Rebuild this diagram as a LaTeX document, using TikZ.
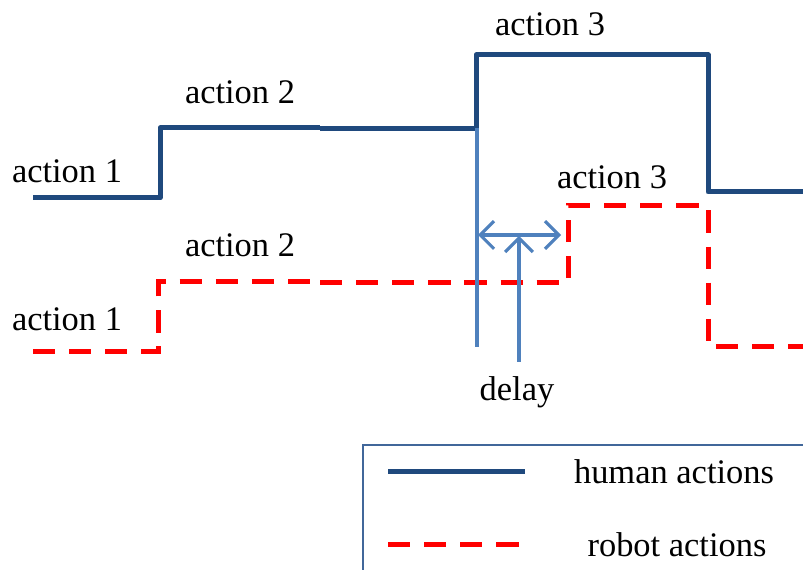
\documentclass[tikz,border=0pt]{standalone}
\usepackage{fontspec}
\setmainfont{Liberation Serif}
\usetikzlibrary{arrows.meta, positioning}
\definecolor{humanblue}{RGB}{31, 73, 125}
\definecolor{delayblue}{RGB}{79, 129, 189}
\definecolor{legendblue}{RGB}{65, 103, 154}
\definecolor{robotred}{RGB}{255, 0, 0}

\begin{document}
\begin{tikzpicture}[
    x=0.36pt, y=-0.36pt,
    font=\fontsize{12.4}{15}\selectfont,
    >={Straight Barb[length=5pt, width=10pt, line width=1.1pt]},
    human/.style={line width=1.8pt, humanblue, line join=round},
    robot/.style={line width=1.8pt, robotred, dash pattern=on 8pt off 5pt},
    delayline/.style={line width=1.1pt, delayblue},
    label/.style={inner sep=0pt, anchor=base}
]
    \useasboundingbox (0,0) rectangle (803,570);

    % Human actions (solid)
    \draw[human] (33,198) -- (160,198) -- (160,128) -- (320,128);
    \draw[human] (320,129) -- (476,129) -- (476,55) -- (708,55) -- (708,192) -- (803,192);

    % Robot actions (dashed)
    \draw[robot] (33,352) -- (158,352) -- (158,282) -- (320,282);
    \draw[robot] (320,283) -- (568,283) -- (568,206) -- (708,206) -- (708,347) -- (803,347);

    % Labels
    \node[label] (h1) at (67,183) {action 1};
    \node[label] (h2) at (240,104) {action 2};
    \node[label] (h3) at (550,36) {action 3};
    \node[label] (r1) at (67,331) {action 1};
    \node[label] (r2) at (240,257) {action 2};
    \node[label] (r3) at (612,189) {action 3};

    % Delay marker
    \coordinate (vtop) at (477,128);
    \coordinate (vbot) at (477,347);
    \coordinate (dl) at (478,235);
    \coordinate (dr) at (561,235);
    \coordinate (dmid) at (519,236);
    \draw[delayline] (vtop) -- (vbot);
    \draw[delayline, <->] (dl) -- (dr);
    \node[label] (delay) at (517,401) {delay};
    \draw[delayline, ->] (519,362) -- (dmid);

    % Legend
    \draw[line width=1pt, legendblue] (363,575) -- (363,445) -- (810,445);
    \draw[human, line cap=butt] (388,472) -- (525,472);
    \draw[robot] (388,545) -- (530,545);
    \node[label] (hleg) at (674,484) {human actions};
    \node[label] (rleg) at (677,557) {robot actions};
\end{tikzpicture}
\end{document}
